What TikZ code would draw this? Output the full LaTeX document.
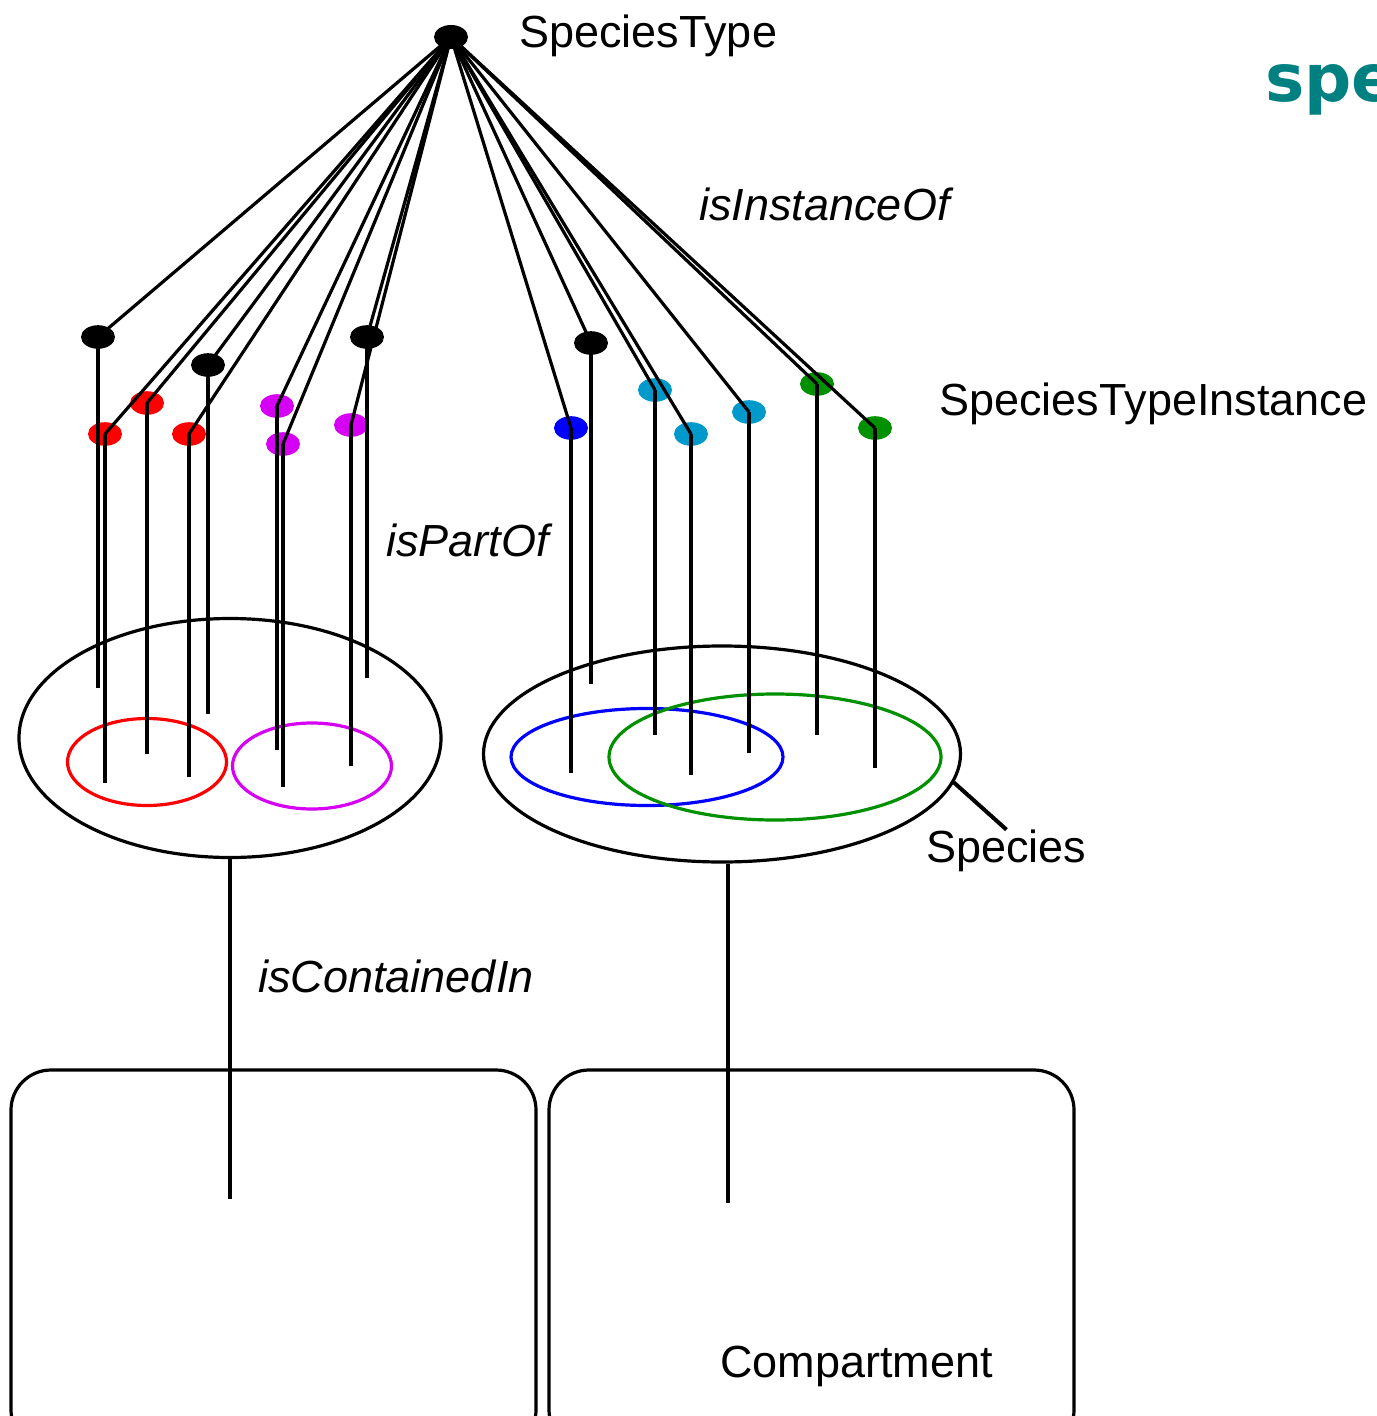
\documentclass[tikz,border=0pt]{standalone}
\usepackage{fontspec}
\setmainfont{Liberation Sans}
\newfontfamily\titlefont{DejaVu Sans}
\usepackage{xcolor}
\definecolor{cRed}{HTML}{FF0000}
\definecolor{cMagenta}{HTML}{D600F5}
\definecolor{cBlue}{HTML}{0000FF}
\definecolor{cCyan}{HTML}{0099CC}
\definecolor{cGreen}{HTML}{009000}
\definecolor{cTeal}{HTML}{008080}
\usetikzlibrary{shapes.geometric}
\tikzset{
  node-dot/.style={ellipse,inner sep=0pt,minimum width=17pt,minimum height=11.8pt},
  node-top/.style={node-dot,fill=black,minimum height=12pt},
  node-set/.style={draw,ellipse,line width=1.6pt,inner sep=0pt},
  node-comp/.style={draw,line width=1.6pt,rounded corners=20pt,inner sep=0pt,
    minimum width=262.5pt,minimum height=190pt},
  node-text/.style={anchor=west,inner sep=0pt,font=\fontsize{22.5pt}{27pt}\selectfont},
  link/.style={line width=1.6pt},
}

\begin{document}
\begin{tikzpicture}[x=0.5pt,y=-0.5pt]
  \useasboundingbox (0,0) rectangle (1376,1416);
  \clip (0,0) rectangle (1376,1416);

  % compartments
  \node[node-comp] (comp1) at (273.5,1260) {};
  \node[node-comp] (comp2) at (811.5,1260) {};

  % species sets
  \node[node-set,minimum width=211pt,minimum height=119.5pt]        (sp1) at (230,738) {};
  \node[node-set,minimum width=238.5pt,minimum height=108pt]        (sp2) at (722,754) {};
  \node[node-set,draw=cRed,minimum width=79.5pt,minimum height=43.5pt]   (setR) at (147,762) {};
  \node[node-set,draw=cMagenta,minimum width=79.5pt,minimum height=43pt] (setM) at (312,766) {};
  \node[node-set,draw=cBlue,minimum width=136pt,minimum height=48.5pt]   (setB) at (647,757) {};
  \node[node-set,draw=cGreen,minimum width=166pt,minimum height=63pt]    (setG) at (775,757) {};

  % species type and its instances
  \node[node-top] (st) at (451,37) {};
  \foreach \n/\x/\y/\c/\e in {b1/98/337/black/688, b2/208/365/black/714,
      b3/367/337/black/678, b4/591/343/black/684,
      r1/105/434/cRed/783, r2/147/403/cRed/754, r3/189/434/cRed/777,
      m1/277/406/cMagenta/750, m2/283/444/cMagenta/787, m3/351/425/cMagenta/766,
      u1/571/428/cBlue/773,
      c1/655/390/cCyan/735, c2/691/434/cCyan/775, c3/749/412/cCyan/753,
      g1/817/384/cGreen/735, g2/875/428/cGreen/768} {
    \node[node-dot,fill=\c] (\n) at (\x,\y) {};
    \coordinate (\n-end) at (\x,\e);
  }
  \foreach \n in {b1,b2,b3,b4,r1,r2,r3,m1,m2,m3,u1,c1,c2,c3,g1,g2} {
    \draw[link] (st.center) -- (\n.center);
    \draw[link] (\n.center) -- (\n-end);
  }

  % containment
  \coordinate (in1) at (230,1199);
  \coordinate (in2) at (728,1203);
  \draw[link] (sp1.south) -- (in1);
  \draw[link] (sp2.south -| in2) -- (in2);

  % labels
  \node[node-text] (lblST)   at (519,36)   {SpeciesType};
  \node[node-text] (lblInst) at (699,204)  {\itshape isInstanceOf};
  \node[node-text] (lblSTI)  at (939,404)  {SpeciesTypeInstance};
  \node[node-text] (lblPart) at (386,540)  {\itshape isPartOf};
  \node[node-text] (lblCont) at (258,976)  {\itshape isContainedIn};
  \node[node-text] (lblSp)   at (926,851)  {Species};
  \node[node-text] (lblComp) at (720,1366) {Compartment};
  \draw[link,line width=2pt] (sp2.-7) -- (lblSp.north);
  \node[anchor=west,inner sep=0pt,text=cTeal,
    font=\titlefont\bfseries\fontsize{33pt}{40pt}\selectfont] (title) at (1265,90) {spe};
\end{tikzpicture}
\end{document}
